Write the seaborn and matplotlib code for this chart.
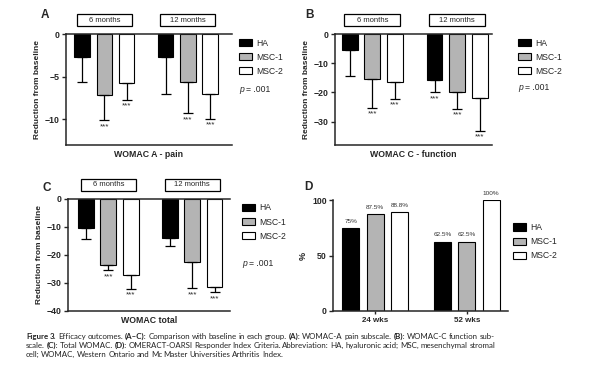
import numpy as np
import pandas as pd
import matplotlib
matplotlib.use('Agg')
import matplotlib.pyplot as plt
import matplotlib.transforms as mtransforms
from matplotlib.patches import Patch, Rectangle
import seaborn as sns

W, H = 594, 381

groups = ['HA', 'MSC-1', 'MSC-2']
times = ['6 months', '12 months']
weeks = ['24 wks', '52 wks']
colors = ['black', '#b4b4b4', 'white']

# change from baseline, [6 months, 12 months]
pain_mean = {'HA': [-2.75, -2.75], 'MSC-1': [-7.2, -5.6], 'MSC-2': [-5.7, -7.0]}
pain_sd = {'HA': [2.9, 4.3], 'MSC-1': [2.9, 3.7], 'MSC-2': [2.0, 2.9]}
pain_sig = {'HA': [0, 0], 'MSC-1': [1, 1], 'MSC-2': [1, 1]}

func_mean = {'HA': [-5.4, -15.9], 'MSC-1': [-15.3, -19.7], 'MSC-2': [-16.5, -22.0]}
func_sd = {'HA': [9.1, 4.0], 'MSC-1': [9.9, 6.0], 'MSC-2': [5.7, 11.2]}
func_sig = {'HA': [0, 1], 'MSC-1': [1, 1], 'MSC-2': [1, 1]}

total_mean = {'HA': [-10.5, -13.8], 'MSC-1': [-23.6, -22.6], 'MSC-2': [-27.1, -31.3]}
total_sd = {'HA': [3.8, 2.9], 'MSC-1': [1.8, 9.3], 'MSC-2': [5.0, 2.0]}
total_sig = {'HA': [0, 0], 'MSC-1': [1, 1], 'MSC-2': [1, 1]}

# responders (%), [24 wks, 52 wks]
resp = {'HA': [75, 62.5], 'MSC-1': [87.5, 62.5], 'MSC-2': [88.8, 100]}

caption = [
    [('Figure 3.', True), ('Efficacy outcomes.', False), ('(A\u2013C):', True),
     ('Comparison with baseline in each group.', False), ('(A):', True),
     ('WOMAC-A pain subscale.', False), ('(B):', True), ('WOMAC-C function sub-', False)],
    [('scale.', False), ('(C):', True), ('Total WOMAC.', False), ('(D):', True),
     ('OMERACT-OARSI Responder Index Criteria. Abbreviation: HA, hyaluronic acid; MSC, mesenchymal stromal', False)],
    [('cell; WOMAC, Western Ontario and Mc Master Universities Arthritis Index.', False)],
]

sns.set_style('ticks')
plt.rcParams['font.family'] = ['Liberation Sans', 'DejaVu Sans']

fig = plt.figure(figsize=(W / 100, H / 100), dpi=100)
fig.patch.set_facecolor('white')


def fx(px):
    return px / W


def fy(py):
    return 1 - py / H


def add_ax(l, t, r, b):
    return fig.add_axes([l / W, 1 - b / H, (r - l) / W, (b - t) / H])


def add_legend(ax, x, y_top, p_y=None):
    handles = [Patch(fc=c, ec='black', lw=0.8) for c in colors]
    ax.legend(handles, groups, loc='upper left', bbox_to_anchor=(fx(x), fy(y_top)),
              bbox_transform=fig.transFigure, frameon=False, fontsize=6.2,
              handlelength=1.55, handleheight=0.9, handletextpad=0.5,
              labelspacing=0.6, borderpad=0, borderaxespad=0)
    if p_y is not None:
        fig.text(fx(x), fy(p_y), 'p', fontsize=6.2, va='center', style='italic')
        fig.text(fx(x + 7), fy(p_y), '= .001', fontsize=6.2, va='center')


def bold_ticks(ax):
    for lab in ax.get_yticklabels() + ax.get_xticklabels():
        lab.set_fontweight('bold')


def change_panel(ax, means, sds, sigs, ylim, yticks, xlim, xlabel):
    rows = [(t, g, means[g][j]) for g in groups for j, t in enumerate(times)]
    df = pd.DataFrame(rows, columns=['time', 'group', 'value'])
    sns.barplot(data=df, x='time', y='value', hue='group', order=times, hue_order=groups,
                palette=colors, saturation=1, edgecolor='black', linewidth=0.8,
                gap=0.3, errorbar=None, legend=False, ax=ax)
    for g, cont in zip(groups, ax.containers):
        for j, bar in enumerate(cont):
            x = bar.get_x() + bar.get_width() / 2
            m, s = means[g][j], sds[g][j]
            ax.errorbar(x, m, yerr=[[s], [0]], fmt='none', ecolor='black',
                        elinewidth=0.9, capsize=3.5, capthick=0.9)
            if sigs[g][j]:
                ax.annotate('***', (x, m - s), xytext=(0, -2), textcoords='offset points',
                            ha='center', va='top', fontsize=5.8)
    ax.set_ylim(*ylim)
    ax.set_xlim(*xlim)
    ax.set_yticks(yticks)
    ax.set_xticks([])
    ax.set_ylabel('Reduction from baseline', fontsize=6, fontweight='bold', labelpad=3)
    ax.set_xlabel(xlabel, fontsize=6.3, fontweight='bold', labelpad=3.5)
    ax.tick_params(axis='y', length=3, width=1, labelsize=6.3, pad=1.5)
    bold_ticks(ax)
    ax.spines['right'].set_visible(False)
    for sp in ['left', 'top', 'bottom']:
        ax.spines[sp].set_linewidth(1.1)
    trans = mtransforms.blended_transform_factory(ax.transData, ax.transAxes)
    for k, t in enumerate(times):
        ax.add_patch(Rectangle((k - 0.33, 1.07), 0.66, 0.11, transform=trans, fc='white',
                               ec='black', lw=0.9, clip_on=False))
        ax.text(k, 1.125, t, transform=trans, ha='center', va='center', fontsize=5.5)


# A
axA = add_ax(66, 34, 232, 145)
change_panel(axA, pain_mean, pain_sd, pain_sig, (-13, 0), [0, -5, -10], (-0.46, 1.53), 'WOMAC A - pain')
add_legend(axA, 239, 38.5, 89)

# B
axB = add_ax(335, 34, 492, 145)
change_panel(axB, func_mean, func_sd, func_sig, (-38, 0), [0, -10, -20, -30], (-0.44, 1.41), 'WOMAC C - function')
add_legend(axB, 518, 38.5, 88)

# C
axC = add_ax(68, 199, 230, 311)
change_panel(axC, total_mean, total_sd, total_sig, (-40, 0), [0, -10, -20, -30, -40], (-0.48, 1.45), 'WOMAC total')
add_legend(axC, 242, 203.5, 264)

# D
axD = add_ax(333, 200, 508, 311)
rows = [(w, g, resp[g][j]) for g in groups for j, w in enumerate(weeks)]
dfD = pd.DataFrame(rows, columns=['week', 'group', 'value'])
sns.barplot(data=dfD, x='week', y='value', hue='group', order=weeks, hue_order=groups,
            palette=colors, saturation=1, edgecolor='black', linewidth=0.8,
            gap=0.3, errorbar=None, legend=False, ax=axD)
for g, cont in zip(groups, axD.containers):
    axD.bar_label(cont, labels=[f'{v:g}%' for v in resp[g]], padding=3, fontsize=4.6, color='#333333')
axD.set_ylim(0, 100)
axD.set_xlim(-0.46, 1.45)
axD.set_yticks([0, 50, 100])
axD.set_xlabel('')
axD.set_ylabel('%', fontsize=6.5, fontweight='bold', labelpad=3)
axD.tick_params(axis='y', length=3, width=1, labelsize=6.3, pad=1.5)
axD.tick_params(axis='x', length=2.5, width=1, labelsize=5.8, pad=2)
bold_ticks(axD)
sns.despine(ax=axD)
for sp in ['left', 'bottom']:
    axD.spines[sp].set_linewidth(1.1)
add_legend(axD, 513, 223)

# panel letters
for lab, x, y in [('A', 45, 15), ('B', 310, 15), ('C', 47, 188), ('D', 308, 187)]:
    fig.text(fx(x), fy(y), lab, fontsize=8.5, fontweight='bold', ha='center', va='center')

# caption: words placed one by one, first two lines justified
renderer = fig.canvas.get_renderer()
ident = mtransforms.IdentityTransform()
cap_size = 5.7
cap_left, cap_right = 26, 495
baselines = [339, 348, 357]
space = 1.6
for li, segs in enumerate(caption):
    words = [(w, b) for txt, b in segs for w in txt.split(' ')]
    objs = [fig.text(0, 0, w, transform=ident, fontsize=cap_size, family='Lato',
                     fontweight='bold' if b else 'normal', va='baseline', color='#222222')
            for w, b in words]
    widths = [t.get_window_extent(renderer).width for t in objs]
    if li < len(caption) - 1:
        gap = max((cap_right - cap_left - sum(widths)) / (len(objs) - 1), space * 0.6)
    else:
        gap = space
    x = cap_left
    for t, w in zip(objs, widths):
        t.set_position((x, H - baselines[li]))
        x += w + gap

fig.savefig('out.png', dpi=100, facecolor='white')
